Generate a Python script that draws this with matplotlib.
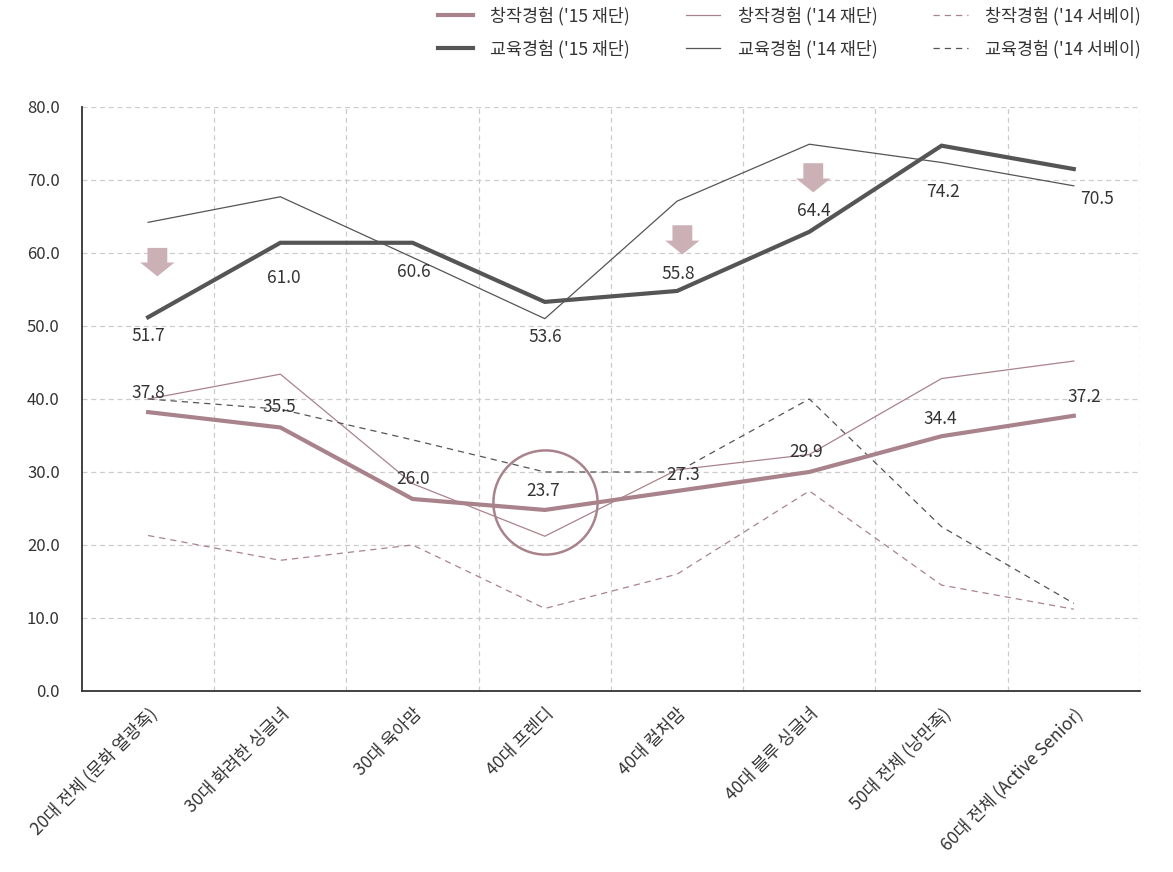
import numpy as np
import matplotlib
matplotlib.use("Agg")
import matplotlib.pyplot as plt

plt.rcParams['font.family'] = ['Noto Sans CJK KR', 'DejaVu Sans']

# categories (x axis)
categories = ['20대 전체 (문화 열광족)', '30대 화려한 싱글녀', '30대 육아맘', '40대 프렌디',
              '40대 컬처맘', '40대 블루 싱글녀', '50대 전체 (낭만족)', '60대 전체 (Active Senior)']

# series
edu_15 = [51.2, 61.4, 61.4, 53.3, 54.8, 62.9, 74.7, 71.5]
edu_14 = [64.2, 67.7, 59.4, 51.0, 67.1, 74.9, 72.4, 69.2]
edu_sv = [40.0, 38.6, 34.4, 30.0, 30.0, 40.0, 22.5, 12.0]
cre_15 = [38.2, 36.1, 26.3, 24.8, 27.4, 30.0, 34.9, 37.7]
cre_14 = [40.0, 43.4, 28.4, 21.2, 30.3, 32.4, 42.8, 45.2]
cre_sv = [21.3, 17.9, 20.0, 11.3, 16.0, 27.4, 14.5, 11.2]

# value labels as printed on the chart
edu_lbl = ['51.7', '61.0', '60.6', '53.6', '55.8', '64.4', '74.2', '70.5']
cre_lbl = ['37.8', '35.5', '26.0', '23.7', '27.3', '29.9', '34.4', '37.2']

# label offsets in pixels from the '15 points (dx, dy), up is positive
edu_off = [(0, -19), (3, -35), (1, -29), (0, -35), (1, 17), (4, 21), (1, -46), (23, -30)]
cre_off = [(0, 19), (-1, 20), (1, 20), (-2, 19), (6, 16), (-3, 20), (-1, 17), (11, 19)]

# down arrows: (category, x shift, top, bottom)
arrows = [(0, 0.07, 60.7, 56.8), (4, 0.04, 63.8, 59.8), (5, 0.03, 72.3, 68.3)]

DARK = '#555555'
MAUVE = '#a9838b'
ARROW = '#cbb0b6'

fig = plt.figure(figsize=(11.73, 8.72), dpi=100)
ax = fig.add_axes([0.0699, 0.2076, 0.9019, 0.6697])

x = np.arange(len(categories))

l1, = ax.plot(x, cre_15, color=MAUVE, lw=3.0, solid_joinstyle='miter', zorder=5)
l2, = ax.plot(x, edu_15, color=DARK, lw=3.0, solid_joinstyle='miter', zorder=5)
l3, = ax.plot(x, cre_14, color=MAUVE, lw=0.9, zorder=4)
l4, = ax.plot(x, edu_14, color=DARK, lw=0.9, zorder=4)
l5, = ax.plot(x, cre_sv, color=MAUVE, lw=0.9, ls=(0, (5, 4)), zorder=4)
l6, = ax.plot(x, edu_sv, color=DARK, lw=0.9, ls=(0, (5, 4)), zorder=4)

for i in range(len(x)):
    ax.annotate(edu_lbl[i], (x[i], edu_15[i]), xytext=edu_off[i], textcoords='offset pixels',
                ha='center', va='center', fontsize=12.5, color='#333333', zorder=6)
    ax.annotate(cre_lbl[i], (x[i], cre_15[i]), xytext=cre_off[i], textcoords='offset pixels',
                ha='center', va='center', fontsize=12.5, color='#333333', zorder=6)

for c, dx, top, bot in arrows:
    ax.arrow(c + dx, top, 0, bot - top, width=0.15, head_width=0.26, head_length=1.9,
             length_includes_head=True, color=ARROW, lw=0, zorder=3)

# highlight circle around 40대 프렌디
ax.plot([3], [25.9], marker='o', markersize=75, markerfacecolor='none',
        markeredgecolor=MAUVE, markeredgewidth=1.8, zorder=3)

ax.set_xlim(-0.5, len(categories) - 0.5)
ax.set_ylim(0, 80)
ax.set_yticks(np.arange(0, 81, 10))
ax.set_yticklabels(['%.1f' % v for v in np.arange(0, 81, 10)], fontsize=12, color='#333333')
ax.set_xticks(x)
ax.set_xticklabels(categories, rotation=45, ha='right', rotation_mode='anchor',
                   fontsize=12.5, color='#333333')
ax.set_xticks(np.arange(0.5, len(categories), 1), minor=True)
ax.tick_params(axis='both', which='both', length=0)
ax.tick_params(axis='y', pad=16)
ax.tick_params(axis='x', pad=10)

ax.grid(axis='y', color='#cccccc', ls=(0, (4, 3)), lw=0.9)
ax.grid(axis='x', which='minor', color='#cccccc', ls=(0, (4, 3)), lw=0.9)
ax.grid(axis='x', which='major', visible=False)
ax.set_axisbelow(True)

for s in ['top', 'right']:
    ax.spines[s].set_visible(False)
for s in ['left', 'bottom']:
    ax.spines[s].set_color('#333333')
    ax.spines[s].set_linewidth(1.3)

handles = [l1, l2, l3, l4, l5, l6]
labels = ["창작경험 ('15 재단)", "교육경험 ('15 재단)",
          "창작경험 ('14 재단)", "교육경험 ('14 재단)",
          "창작경험 ('14 서베이)", "교육경험 ('14 서베이)"]
fig.legend(handles, labels, ncol=3, loc='upper right', bbox_to_anchor=(0.986, 1.01),
           frameon=False, fontsize=12.5, handlelength=2.0, handletextpad=1.0,
           columnspacing=3.2, labelspacing=0.8, labelcolor='#333333')

fig.savefig('out.png', dpi=100)
